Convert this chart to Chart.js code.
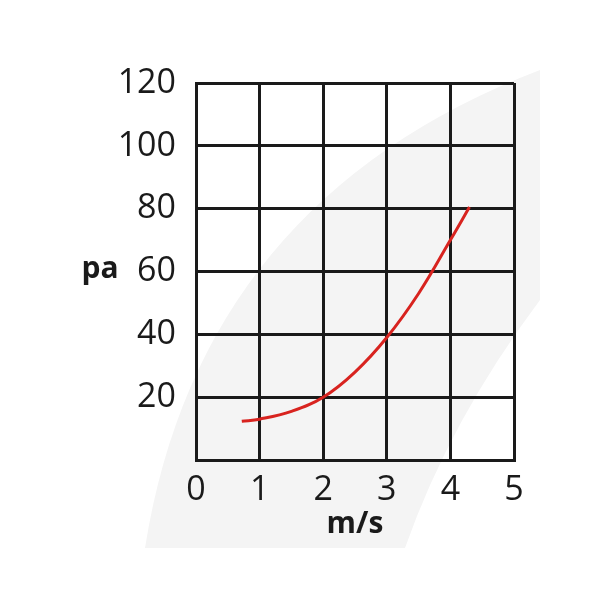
<!DOCTYPE html>
<html lang="zh">
<head>
    <meta charset="UTF-8">
    <title>pa - m/s</title>
    <script src="https://cdn.jsdelivr.net/npm/chart.js"></script>
    <style>
        html, body { margin: 0; padding: 0; background: #fff; }
        #wrap { width: 600px; height: 600px; }
    </style>
</head>
<body>
    <div id="wrap"><canvas id="grafica"></canvas></div>

    <script>
        // valores
        const velocidad = [0.72, 1.0, 1.5, 2.0, 2.5, 3.0, 3.5, 4.0, 4.3];
        const presion   = [12.3, 13.0, 15.5, 20.0, 28.0, 39.0, 53.0, 70.0, 80.5];
        const ticksX = [0, 1, 2, 3, 4, 5];
        const ticksY = [0, 20, 40, 60, 80, 100, 120];
        const tituloY = 'pa';
        const tituloX = 'm/s';

        const puntos = velocidad.map((v, i) => ({ x: v, y: presion[i] }));

        // fondo gris claro (marca de agua)
        const fondo = {
            id: 'fondo',
            beforeDraw(chart) {
                const ctx = chart.ctx;
                ctx.save();
                ctx.fillStyle = '#f4f4f4';
                ctx.beginPath();
                ctx.moveTo(145, 548);
                ctx.quadraticCurveTo(200, 200, 540, 70);
                ctx.lineTo(540, 300);
                ctx.quadraticCurveTo(450, 420, 405, 548);
                ctx.closePath();
                ctx.fill();
                ctx.restore();
            }
        };

        // etiqueta "pa" horizontal a la izquierda
        const etiquetaY = {
            id: 'etiquetaY',
            afterDraw(chart) {
                const ctx = chart.ctx;
                const area = chart.chartArea;
                ctx.save();
                ctx.font = 'bold 30px "Open Sans"';
                ctx.fillStyle = '#1a1a1a';
                ctx.textAlign = 'center';
                ctx.textBaseline = 'middle';
                ctx.fillText(tituloY, 100, (area.top + area.bottom) / 2 - 2);
                ctx.restore();
            }
        };

        const ctx = document.getElementById('grafica').getContext('2d');
        const grafica = new Chart(ctx, {
            type: 'scatter',
            data: {
                datasets: [{
                    data: puntos,
                    showLine: true,
                    borderColor: '#d8231f',
                    borderWidth: 3,
                    tension: 0.4,
                    pointRadius: 0,
                    fill: false
                }]
            },
            options: {
                responsive: true,
                maintainAspectRatio: false,
                animation: false,
                layout: { padding: { top: 83, right: 86, bottom: 54, left: 0 } },
                plugins: {
                    legend: { display: false },
                    tooltip: { enabled: false }
                },
                scales: {
                    x: {
                        type: 'linear',
                        min: 0, max: 5,
                        afterBuildTicks: s => { s.ticks = ticksX.map(v => ({ value: v })); },
                        afterFit: s => { s.height = 86; },
                        grid: { color: '#1a1a1a', lineWidth: 3, drawTicks: false },
                        border: { color: '#1a1a1a', width: 3 },
                        ticks: {
                            padding: 10,
                            color: '#1a1a1a',
                            font: { family: 'Open Sans', size: 34 }
                        },
                        title: {
                            display: true,
                            text: tituloX,
                            color: '#1a1a1a',
                            font: { family: 'Open Sans', size: 30, weight: 'bold' },
                            padding: { top: 0 }
                        }
                    },
                    y: {
                        min: 0, max: 120,
                        afterBuildTicks: s => { s.ticks = ticksY.map(v => ({ value: v })); },
                        afterFit: s => { s.width = 196; },
                        grid: { color: '#1a1a1a', lineWidth: 3, drawTicks: false },
                        border: { color: '#1a1a1a', width: 3 },
                        ticks: {
                            padding: 20,
                            color: '#1a1a1a',
                            font: { family: 'Open Sans', size: 34 },
                            callback: v => v === 0 ? '' : v
                        }
                    }
                }
            },
            plugins: [fondo, etiquetaY]
        });
    </script>
</body>
</html>
